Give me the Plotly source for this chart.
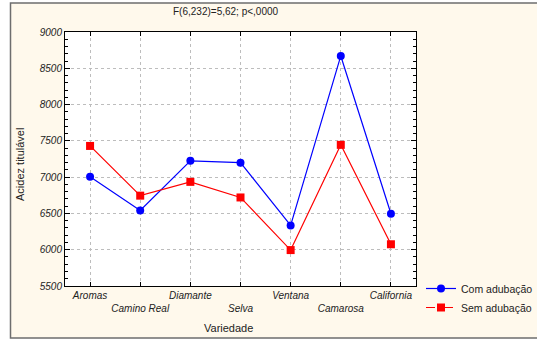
import plotly.graph_objects as go

categories = ["Aromas", "Camino Real", "Diamante", "Selva", "Ventana", "Camarosa", "California"]
com_adubacao = [7005, 6540, 7225, 7200, 6335, 8670, 6495]
sem_adubacao = [7430, 6745, 6935, 6720, 5995, 7445, 6075]
y_ticks = [5500, 6000, 6500, 7000, 7500, 8000, 8500, 9000]

W, H = 537, 340
L, R, T, B = 65, 121, 32, 54
pw, ph = W - L - R, H - T - B

def px_x(p):
    return (p - L) / pw

def px_y(p):
    return (H - B - p) / ph

font = "Liberation Sans, Arial, sans-serif"
xs = list(range(len(categories)))
ticktext = ["<i>" + c + "</i>" if i % 2 == 0 else "<br><i>" + c + "</i>" for i, c in enumerate(categories)]
ytext = ["<i>%d</i>" % v for v in y_ticks]

fig = go.Figure()
fig.add_trace(go.Scatter(x=xs, y=com_adubacao, mode="lines+markers", showlegend=False,
                         line=dict(color="#0000ff", width=1.2),
                         marker=dict(symbol="circle", size=8, color="#0000ff")))
fig.add_trace(go.Scatter(x=xs, y=sem_adubacao, mode="lines+markers", showlegend=False,
                         line=dict(color="#ff0000", width=1.2),
                         marker=dict(symbol="square", size=8, color="#ff0000")))
# legend entries
fig.add_trace(go.Scatter(x=[None], y=[None], mode="lines+markers", name="Com adubação",
                         line=dict(color="#0000ff", width=1.2),
                         marker=dict(symbol="circle", size=8, color="#0000ff")))
fig.add_trace(go.Scatter(x=[None], y=[None], mode="lines+markers", name="Sem adubação",
                         line=dict(color="#ff0000", width=1.2, dash="dash"),
                         marker=dict(symbol="square", size=8, color="#ff0000")))

fig.update_layout(
    width=W, height=H,
    margin=dict(l=L, r=R, t=T, b=B, autoexpand=False),
    paper_bgcolor="white",
    plot_bgcolor="white",
    font=dict(family=font, size=10, color="#222"),
    showlegend=True,
    legend=dict(x=px_x(421), y=px_y(274), xanchor="left", yanchor="top",
                bgcolor="rgba(0,0,0,0)", font=dict(family=font, size=10.5, color="#222"),
                itemwidth=30, tracegroupgap=0),
    xaxis=dict(range=[-0.5, 6.5], tickvals=xs, ticktext=ticktext, tickangle=0, automargin=False,
               tickfont=dict(family=font, size=10, color="#222"),
               ticks="inside", ticklen=4, tickcolor="#000",
               showline=True, linecolor="#000", linewidth=1, mirror="ticks",
               showgrid=True, gridcolor="#bdbdbd", griddash="dot", gridwidth=1,
               zeroline=False, fixedrange=True),
    yaxis=dict(range=[5500, 9000], tickvals=y_ticks, ticktext=ytext, automargin=False,
               tickfont=dict(family=font, size=10, color="#222"),
               ticks="inside", ticklen=5, tickcolor="#000",
               minor=dict(dtick=100, ticks="inside", ticklen=3, tickcolor="#000", showgrid=False),
               showline=True, linecolor="#000", linewidth=1, mirror="ticks",
               showgrid=True, gridcolor="#bdbdbd", griddash="dot", gridwidth=1,
               zeroline=False, fixedrange=True),
    shapes=[
        dict(type="rect", xref="paper", yref="paper", layer="below",
             x0=px_x(10.5), x1=px_x(540), y0=px_y(338), y1=px_y(3),
             fillcolor="#fff9ec", line=dict(color="#6e6e6e", width=1.5)),
        dict(type="rect", xref="paper", yref="paper", layer="below",
             x0=0, x1=1, y0=0, y1=1, fillcolor="white", line=dict(width=0)),
    ],
    annotations=[
        dict(text="F(6,232)=5,62; p<,0000", xref="paper", yref="paper",
             x=px_x(226), y=px_y(12), xanchor="center", yanchor="middle",
             showarrow=False, font=dict(size=10, color="#222")),
        dict(text="Acidez titulável", xref="paper", yref="paper", textangle=-90,
             x=px_x(20), y=px_y(165), xanchor="center", yanchor="middle",
             showarrow=False, font=dict(size=11, color="#222")),
        dict(text="Variedade", xref="paper", yref="paper",
             x=px_x(228), y=px_y(328), xanchor="center", yanchor="middle",
             showarrow=False, font=dict(size=11, color="#222")),
    ],
)

fig.write_html("out.html")
